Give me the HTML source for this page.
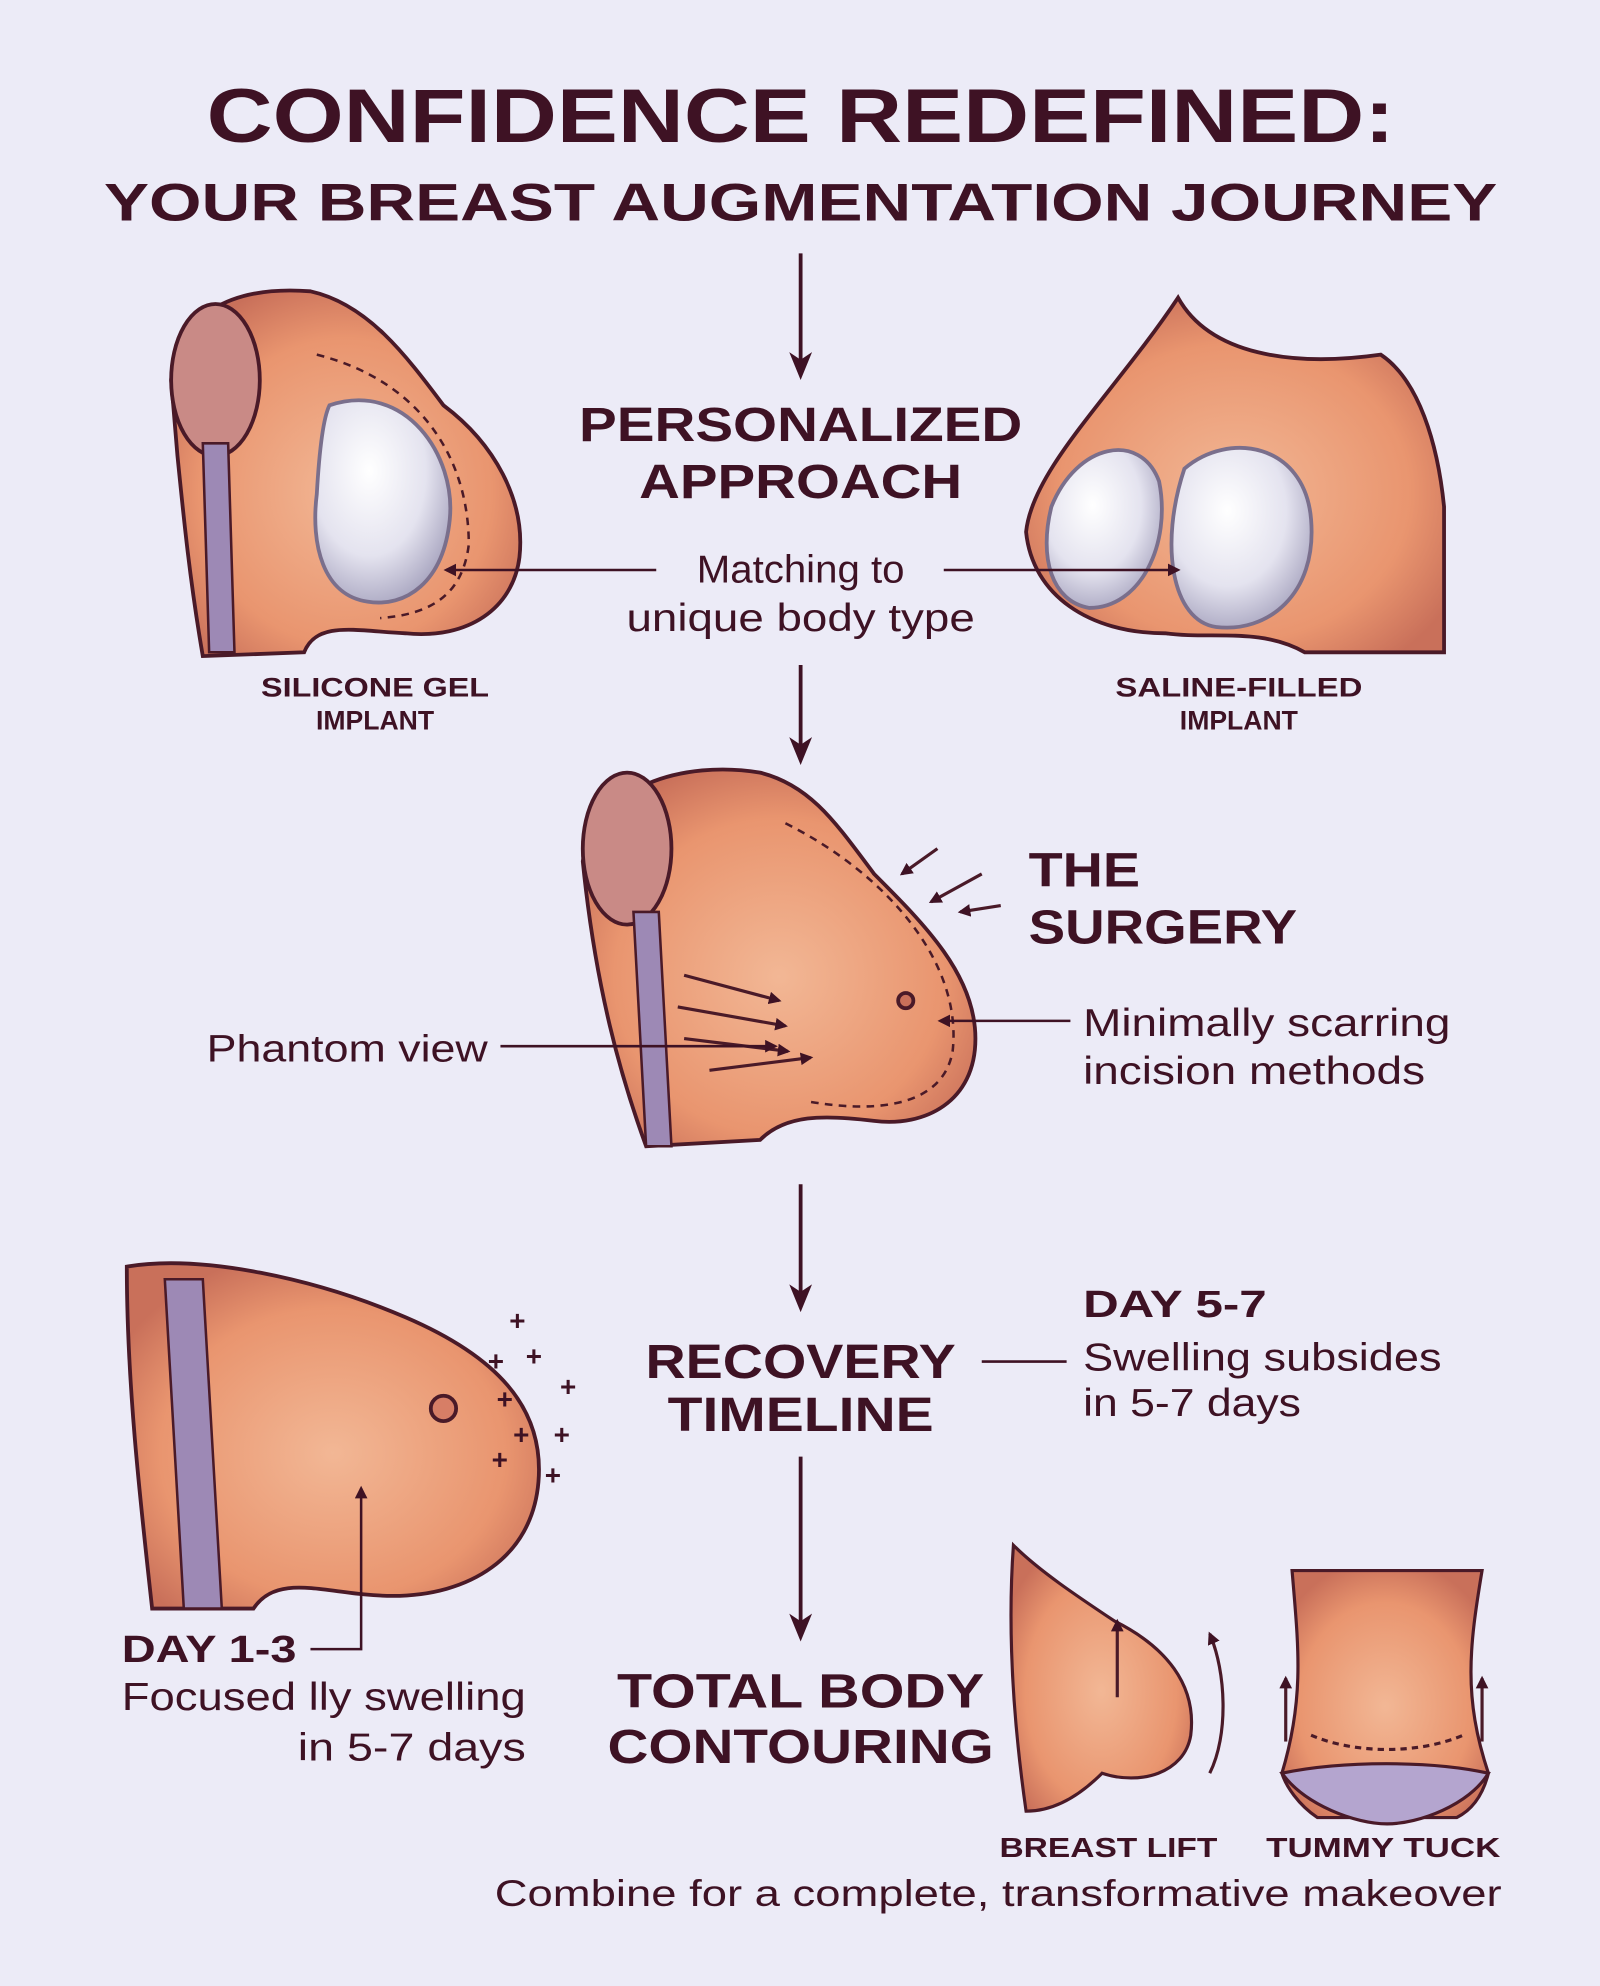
<!DOCTYPE html>
<html><head><meta charset="utf-8"><style>
html,body{margin:0;padding:0;background:#ecebf7;}
svg{display:block}
text{font-family:"Liberation Sans",sans-serif;fill:#3e1224}
.b{font-weight:bold}
</style></head><body>
<svg width="1600" height="1986" viewBox="0 0 1263 1568" xmlns="http://www.w3.org/2000/svg">
<defs>
<marker id="ah" markerWidth="10" markerHeight="10" refX="8" refY="5" orient="auto" markerUnits="userSpaceOnUse"><path d="M0,0 L10,5 L0,10 Z" fill="#3e1224"/></marker>
<marker id="ahb" markerWidth="22" markerHeight="18" refX="18" refY="9" orient="auto" markerUnits="userSpaceOnUse"><path d="M0,0 L22,9 L0,18 L6,9 Z" fill="#3e1224"/></marker>
<radialGradient id="skin" cx="50%" cy="55%" r="60%"><stop offset="0" stop-color="#f2b795"/><stop offset="0.7" stop-color="#e9956f"/><stop offset="1" stop-color="#c9705a"/></radialGradient>
<radialGradient id="imp" cx="40%" cy="35%" r="70%"><stop offset="0" stop-color="#ffffff"/><stop offset="0.6" stop-color="#e4e3ef"/><stop offset="1" stop-color="#a7a4bf"/></radialGradient>
</defs>
<rect width="1263" height="1568" fill="#ecebf7"/>

<!-- silicone illustration -->
<g stroke="#4a1a28" stroke-width="3">
<path d="M135,300 C140,250 180,225 245,230 C290,240 320,280 350,320 C390,350 415,395 410,440 C405,480 370,505 320,500 C280,498 250,490 240,515 L160,518 C150,460 145,410 140,360 Z" fill="url(#skin)"/>
<ellipse cx="170" cy="300" rx="35" ry="60" fill="#c98a86"/>
<path d="M160,350 L180,350 L185,515 L165,515 Z" fill="#9d89b5" stroke-width="2"/>
<path d="M260,320 C320,300 360,360 355,410 C350,460 320,480 290,475 C255,470 245,430 250,390 C252,355 255,330 260,320 Z" fill="url(#imp)" stroke="#7a6f8c"/>
<path d="M250,280 C330,300 370,360 370,430 C365,470 340,485 300,488" fill="none" stroke-dasharray="6 5" stroke-width="2"/>
</g>

<!-- saline illustration -->
<g stroke="#4a1a28" stroke-width="3">
<path d="M930,235 C955,280 1020,290 1090,280 C1120,300 1135,350 1140,400 L1140,515 L1030,515 C995,495 955,505 920,500 C860,500 815,470 810,420 C815,370 880,310 930,235 Z" fill="url(#skin)"/>
<path d="M830,400 C850,350 900,340 915,380 C925,430 900,480 860,480 C830,475 820,440 830,400 Z" fill="url(#imp)" stroke="#7a6f8c"/>
<path d="M935,370 C970,340 1030,350 1035,410 C1040,470 1000,500 960,495 C925,490 915,430 935,370 Z" fill="url(#imp)" stroke="#7a6f8c"/>
</g>

<!-- surgery illustration -->
<g stroke="#4a1a28" stroke-width="3">
<path d="M460,680 C470,620 540,600 600,610 C640,620 660,650 690,690 C730,730 770,770 770,820 C770,870 730,890 690,885 C650,880 620,880 600,900 L510,905 C490,850 470,780 460,680 Z" fill="url(#skin)"/>
<ellipse cx="495" cy="670" rx="35" ry="60" fill="#c98a86"/>
<path d="M500,720 L520,720 L530,905 L510,905 Z" fill="#9d89b5" stroke-width="2"/>
<path d="M620,650 C700,690 760,760 752,830 C745,870 700,880 640,870" fill="none" stroke-dasharray="6 5" stroke-width="2"/>
<circle cx="715" cy="790" r="6" fill="#c9705a"/>
<g fill="none" stroke-width="2.5">
<line x1="540" y1="770" x2="615" y2="790" marker-end="url(#ah)"/>
<line x1="535" y1="795" x2="620" y2="810" marker-end="url(#ah)"/>
<line x1="540" y1="820" x2="622" y2="830" marker-end="url(#ah)"/>
<line x1="560" y1="845" x2="640" y2="835" marker-end="url(#ah)"/>
<line x1="740" y1="670" x2="712" y2="690" marker-end="url(#ah)"/>
<line x1="775" y1="690" x2="735" y2="712" marker-end="url(#ah)"/>
<line x1="790" y1="715" x2="758" y2="720" marker-end="url(#ah)"/>
</g>
</g>

<!-- recovery illustration -->
<g stroke="#4a1a28" stroke-width="3">
<path d="M100,1000 C160,990 250,1010 320,1040 C390,1070 430,1110 425,1170 C420,1230 370,1260 310,1260 C260,1260 220,1240 200,1270 L120,1270 C110,1180 100,1090 100,1000 Z" fill="url(#skin)"/>
<path d="M130,1010 L160,1010 L175,1270 L145,1270 Z" fill="#9d89b5" stroke-width="2"/>
<circle cx="350" cy="1112" r="10" fill="#d77e66"/>
</g>
<g font-size="22" font-weight="bold" fill="#3e1224">
<text x="402" y="1050">+</text><text x="415" y="1078">+</text><text x="385" y="1082">+</text><text x="442" y="1102">+</text>
<text x="392" y="1112">+</text><text x="405" y="1140">+</text><text x="437" y="1140">+</text><text x="388" y="1160">+</text><text x="430" y="1172">+</text>
</g>

<!-- breast lift -->
<g stroke="#4a1a28" stroke-width="2.5">
<path d="M800,1220 C820,1240 850,1260 880,1280 C920,1300 945,1330 940,1370 C935,1400 900,1410 870,1400 C850,1420 830,1430 810,1430 C800,1360 795,1290 800,1220 Z" fill="url(#skin)"/>
<line x1="882" y1="1340" x2="882" y2="1280" marker-end="url(#ah)"/>
<path d="M955,1400 C970,1370 968,1320 955,1290" fill="none" marker-end="url(#ah)"/>
</g>
<!-- tummy tuck -->
<g stroke="#4a1a28" stroke-width="2.5">
<path d="M1020,1240 L1170,1240 C1160,1300 1155,1340 1175,1400 C1170,1420 1160,1430 1150,1435 L1040,1435 C1025,1425 1015,1410 1012,1400 C1030,1340 1025,1300 1020,1240 Z" fill="url(#skin)"/>
<path d="M1012,1400 C1060,1390 1130,1390 1175,1400 C1160,1425 1120,1440 1095,1440 C1070,1440 1030,1425 1012,1400 Z" fill="#b4a5cf"/>
<path d="M1035,1370 C1070,1385 1120,1385 1155,1370" fill="none" stroke-dasharray="5 4"/>
<line x1="1015" y1="1375" x2="1015" y2="1325" marker-end="url(#ah)"/>
<line x1="1170" y1="1375" x2="1170" y2="1325" marker-end="url(#ah)"/>
</g>

<!-- arrows -->
<g stroke="#3e1224" stroke-width="3" fill="none">
<line x1="632" y1="200" x2="632" y2="296" marker-end="url(#ahb)"/>
<line x1="632" y1="525" x2="632" y2="600" marker-end="url(#ahb)"/>
<line x1="632" y1="935" x2="632" y2="1032" marker-end="url(#ahb)"/>
<line x1="632" y1="1150" x2="632" y2="1292" marker-end="url(#ahb)"/>
<line x1="518" y1="450" x2="352" y2="450" marker-end="url(#ah)" stroke-width="2"/>
<line x1="745" y1="450" x2="930" y2="450" marker-end="url(#ah)" stroke-width="2"/>
<line x1="395" y1="826" x2="612" y2="826" marker-end="url(#ah)" stroke-width="2"/>
<line x1="845" y1="806" x2="742" y2="806" marker-end="url(#ah)" stroke-width="2"/>
<line x1="775" y1="1075" x2="842" y2="1075" stroke-width="2"/>
<polyline points="245,1302 285,1302 285,1175" marker-end="url(#ah)" stroke-width="2"/>
</g>

<text class="b" x="632" y="112" font-size="60" text-anchor="middle" textLength="938" lengthAdjust="spacingAndGlyphs">CONFIDENCE REDEFINED:</text>
<text class="b" x="632" y="174" font-size="42" text-anchor="middle" textLength="1100" lengthAdjust="spacingAndGlyphs">YOUR BREAST AUGMENTATION JOURNEY</text>
<text class="b" x="632" y="348" font-size="38" text-anchor="middle" textLength="350" lengthAdjust="spacingAndGlyphs">PERSONALIZED</text>
<text class="b" x="632" y="393" font-size="38" text-anchor="middle" textLength="255" lengthAdjust="spacingAndGlyphs">APPROACH</text>
<text x="632" y="460" font-size="31" text-anchor="middle" textLength="164" lengthAdjust="spacingAndGlyphs">Matching to</text>
<text x="632" y="498" font-size="31" text-anchor="middle" textLength="275" lengthAdjust="spacingAndGlyphs">unique body type</text>
<text class="b" x="296" y="550" font-size="21" text-anchor="middle" textLength="180" lengthAdjust="spacingAndGlyphs">SILICONE GEL</text>
<text class="b" x="296" y="576" font-size="21" text-anchor="middle">IMPLANT</text>
<text class="b" x="978" y="550" font-size="21" text-anchor="middle" textLength="195" lengthAdjust="spacingAndGlyphs">SALINE-FILLED</text>
<text class="b" x="978" y="576" font-size="21" text-anchor="middle">IMPLANT</text>
<text class="b" x="812" y="700" font-size="38" textLength="88" lengthAdjust="spacingAndGlyphs">THE</text>
<text class="b" x="812" y="745" font-size="38" textLength="212" lengthAdjust="spacingAndGlyphs">SURGERY</text>
<text x="163" y="838" font-size="30" textLength="222" lengthAdjust="spacingAndGlyphs">Phantom view</text>
<text x="855" y="818" font-size="31" textLength="290" lengthAdjust="spacingAndGlyphs">Minimally scarring</text>
<text x="855" y="856" font-size="31" textLength="270" lengthAdjust="spacingAndGlyphs">incision methods</text>
<text class="b" x="632" y="1088" font-size="38" text-anchor="middle" textLength="245" lengthAdjust="spacingAndGlyphs">RECOVERY</text>
<text class="b" x="632" y="1130" font-size="38" text-anchor="middle" textLength="210" lengthAdjust="spacingAndGlyphs">TIMELINE</text>
<text class="b" x="855" y="1040" font-size="30" textLength="145" lengthAdjust="spacingAndGlyphs">DAY 5-7</text>
<text x="855" y="1082" font-size="31" textLength="283" lengthAdjust="spacingAndGlyphs">Swelling subsides</text>
<text x="855" y="1118" font-size="31" textLength="172" lengthAdjust="spacingAndGlyphs">in 5-7 days</text>
<text class="b" x="96" y="1312" font-size="30" textLength="138" lengthAdjust="spacingAndGlyphs">DAY 1-3</text>
<text x="96" y="1350" font-size="31" textLength="319" lengthAdjust="spacingAndGlyphs">Focused lly swelling</text>
<text x="415" y="1390" font-size="31" text-anchor="end" textLength="180" lengthAdjust="spacingAndGlyphs">in 5-7 days</text>
<text class="b" x="632" y="1348" font-size="38" text-anchor="middle" textLength="290" lengthAdjust="spacingAndGlyphs">TOTAL BODY</text>
<text class="b" x="632" y="1392" font-size="38" text-anchor="middle" textLength="305" lengthAdjust="spacingAndGlyphs">CONTOURING</text>
<text class="b" x="875" y="1466" font-size="22" text-anchor="middle" textLength="172" lengthAdjust="spacingAndGlyphs">BREAST LIFT</text>
<text class="b" x="1092" y="1466" font-size="22" text-anchor="middle" textLength="185" lengthAdjust="spacingAndGlyphs">TUMMY TUCK</text>
<text x="788" y="1505" font-size="29" text-anchor="middle" textLength="795" lengthAdjust="spacingAndGlyphs">Combine for a complete, transformative makeover</text>
</svg>
</body></html>
